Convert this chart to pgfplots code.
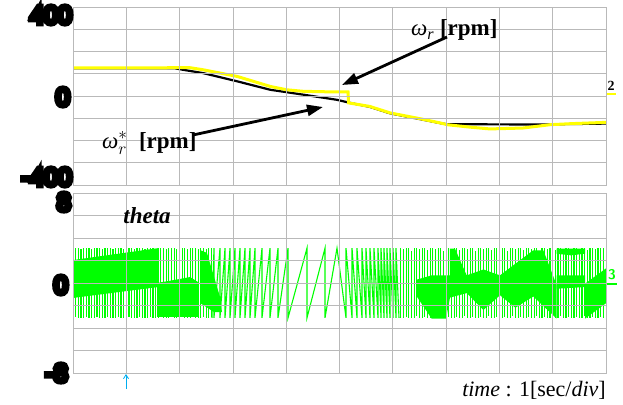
\documentclass[border=0pt]{standalone}
\usepackage{pgfplots}
\pgfplotsset{compat=1.18}
\usepackage{pgfplotstable}
\usepackage{fontspec}
\setmainfont{Liberation Serif}
\newfontfamily\blobfont[FakeBold=22]{Liberation Sans}
\usetikzlibrary{arrows.meta}
\definecolor{scgreen}{RGB}{0,255,0}
\definecolor{scyellow}{RGB}{255,255,0}
\definecolor{scgrid}{RGB}{185,185,185}

\pgfplotstableread{
t hi lo
0.00 3.1 -3.1
0.05 3.1 -3.0
0.10 3.1 -3.1
0.15 3.0 -3.1
0.20 3.1 -3.1
0.25 3.1 -3.0
0.30 3.1 -3.1
0.35 3.0 -3.1
0.40 3.1 -3.1
0.45 3.1 -3.0
0.50 3.1 -3.1
0.55 3.0 -3.1
0.60 3.1 -3.1
0.65 3.1 -3.0
0.70 3.1 -3.1
0.75 3.0 -3.1
0.80 3.1 -3.1
0.85 3.1 -3.0
0.90 3.1 -3.1
0.95 3.0 -3.1
1.00 3.1 -3.1
1.05 3.1 -3.0
1.10 3.1 -3.1
1.15 3.0 -3.1
1.20 3.1 -3.1
1.25 3.1 -3.0
1.30 3.1 -3.1
1.35 3.0 -3.1
1.40 3.1 -3.1
1.45 3.1 -3.0
1.50 3.1 -3.1
1.55 3.0 -3.1
1.60 3.1 -3.1
1.65 3.1 -3.0
1.70 3.1 -3.1
1.75 3.0 -3.1
1.80 3.1 -3.1
1.85 3.1 -3.0
1.90 3.1 -3.1
1.95 3.0 -3.1
2.00 3.1 -3.1
2.05 3.1 -3.0
2.10 3.1 -3.1
2.15 3.0 -3.1
2.20 3.1 -3.1
2.25 3.1 -3.0
2.30 3.1 -3.1
2.35 3.0 -3.1
2.40 3.1 -3.1
2.45 3.1 -3.0
2.50 3.0 -3.1
2.55 3.1 -3.1
2.60 3.1 -3.0
}\earlyT

\pgfplotstableread{
t hi lo
6.15 3.1 -3.1
6.20 3.0 -3.1
6.25 3.1 -3.0
6.30 3.1 -3.1
6.35 2.8 -3.1
6.40 3.1 -3.1
6.45 3.1 -2.9
6.50 3.0 -3.1
6.55 3.1 -3.1
6.60 3.1 -3.0
6.65 2.9 -3.1
6.70 3.1 -3.1
6.75 3.1 -3.0
6.80 3.0 -3.1
6.85 3.1 -3.1
6.90 3.1 -2.9
6.95 2.8 -3.1
7.00 3.1 -3.1
7.05 3.1 -3.0
7.10 3.0 -3.1
7.15 3.1 -3.1
7.20 3.1 -3.0
7.25 2.9 -3.1
7.30 3.1 -3.1
7.35 3.1 -2.9
7.40 3.0 -3.1
7.45 3.1 -3.1
7.50 3.1 -3.0
7.55 2.8 -3.1
7.60 3.1 -3.1
7.65 3.1 -3.0
7.70 3.0 -3.1
7.75 3.1 -3.1
7.80 3.1 -2.9
7.85 2.9 -3.1
7.90 3.1 -3.1
7.95 3.1 -3.0
8.00 3.0 -3.1
8.05 3.1 -3.1
8.10 3.1 -3.0
8.15 2.8 -3.1
8.20 3.1 -3.1
8.25 3.1 -2.9
8.30 3.0 -3.1
8.35 3.1 -3.1
8.40 3.1 -3.0
8.45 2.9 -3.1
8.50 3.1 -3.1
8.55 3.1 -3.0
8.60 3.0 -3.1
8.65 3.1 -3.1
8.70 3.1 -2.9
8.75 2.8 -3.1
8.80 3.1 -3.1
8.85 3.1 -3.0
8.90 3.0 -3.1
8.95 3.1 -3.1
9.00 3.1 -3.0
9.05 2.9 -3.1
9.10 3.1 -3.1
9.15 3.1 -2.9
9.20 3.0 -3.1
9.25 3.1 -3.1
9.30 3.1 -3.0
9.35 2.8 -3.1
9.40 3.1 -3.1
9.45 3.1 -3.0
9.50 3.0 -3.1
9.55 3.1 -3.1
9.60 3.1 -2.9
9.65 2.9 -3.1
9.70 3.1 -3.1
9.75 3.1 -3.0
9.80 3.0 -3.1
9.85 3.1 -3.1
9.90 3.1 -3.0
9.95 3.1 -3.1
}\lateT

\pgfplotsset{
  scopeax/.style={
    scale only axis, width=533pt, anchor=south west,
    xmin=0, xmax=10, xtick={0,1,...,10},
    xticklabels={}, yticklabels={},
    major tick length=0pt,
    grid=major, grid style={scgrid, line width=0.8pt},
    axis line style={scgrid, line width=0.8pt},
    axis on top,
  }
}

\begin{document}
\begin{tikzpicture}[x=1pt,y=1pt]
\path[use as bounding box] (0,0) rectangle (623,404);

% ---------- top panel: speed ----------
\begin{axis}[scopeax, at={(73pt,219pt)}, height=178pt,
  ymin=-400, ymax=400, ytick={-400,-300,...,400}]
\addplot[black, line width=2.2pt] coordinates {
(0,125)(1.9,125)(2.06,118)(2.44,103)(3.08,66)(3.70,28)(4.32,6)(4.95,-17)(5.20,-31)
(5.57,-49)(5.95,-78)(6.51,-104)(6.89,-122)(7.02,-127)(8.82,-128)(9.38,-126)(10,-124)};
\addplot[scyellow, line width=3pt] coordinates {
(0,126)(1.82,127)(2.20,127)(2.44,118)(3.08,88)(3.70,43)(4.01,28)(4.32,21)(4.95,18)
(5.16,18)(5.17,-31)(5.57,-47)(5.95,-76)(6.51,-102)(6.89,-121)(7.02,-129)(7.45,-140)
(7.82,-148)(8.44,-144)(8.95,-129)(9.38,-124)(9.94,-119)(10,-119)};
\end{axis}

% ---------- bottom panel: theta ----------
\begin{axis}[scopeax, at={(73pt,31pt)}, height=180pt,
  ymin=-8, ymax=8, ytick={-8,-6,...,8}]
\addplot[scgreen, ycomb, line width=1.1pt] table[x=t,y=hi]{\earlyT};
\addplot[scgreen, ycomb, line width=1.1pt] table[x=t,y=lo]{\earlyT};
\addplot[scgreen, ycomb, line width=1.1pt] table[x=t,y=hi]{\lateT};
\addplot[scgreen, ycomb, line width=1.1pt] table[x=t,y=lo]{\lateT};
\addplot[scgreen, line width=1.1pt] coordinates {
(2.608,-3.1)(2.645,3.1)(2.645,-3.1)(2.758,3.1)(2.758,-3.1)(2.852,3.1)(2.852,-3.1)
(2.946,3.1)(2.946,-3.1)(3.039,3.1)(3.039,-3.1)(3.133,3.1)(3.133,-3.1)(3.227,3.1)
(3.227,-3.1)(3.321,3.1)(3.321,-3.1)(3.415,3.1)(3.415,-3.1)(3.546,3.1)(3.546,-3.1)
(3.696,3.1)(3.696,-3.1)(3.846,3.1)(3.846,-3.1)(4.034,3.1)(4.034,-3.1)(4.390,3.1)
(4.390,-3.1)(4.728,3.1)(4.728,-3.1)(4.953,3.1)(5.122,-3.1)(5.122,3.1)(5.235,-3.1)
(5.235,3.1)(5.328,-3.1)(5.328,3.1)(5.422,-3.1)(5.422,3.1)(5.497,-3.1)(5.497,3.1)
(5.572,-3.1)(5.572,3.1)(5.647,-3.1)(5.647,3.1)(5.722,-3.1)(5.722,3.1)(5.779,-3.1)
(5.779,3.1)(5.835,-3.1)(5.835,3.1)(5.891,-3.1)(5.891,3.1)(5.947,-3.1)(5.947,3.1)
(6.004,-3.1)(6.004,3.1)(6.060,-3.1)(6.060,3.1)(6.116,-3.1)};
% solid (aliased) regions
\addplot[fill=scgreen, draw=none] coordinates {(0,2.04)(1.6,3.1)(1.6,-0.36)(0,-1.33)} -- cycle;
\addplot[fill=scgreen, draw=none] coordinates {(1.576,0)(2.008,0.36)(2.195,0.53)(2.345,0.09)(2.345,-3.02)(1.576,-3.02)} -- cycle;
\addplot[fill=scgreen, draw=none] coordinates {(2.383,2.93)(2.514,2.67)(2.758,-1.24)(2.795,-2.58)(2.645,-2.58)(2.383,-1.78)} -- cycle;
\addplot[fill=scgreen, draw=none] coordinates {(6.45,0.3)(6.729,0.68)(7.073,0.68)(7.073,3.05)(7.167,3.05)(7.386,0.68)(7.7,1.2)(8.011,0.68)(8.636,2.91)(8.824,2.91)(9.075,-0.20)(9.075,-3.17)(8.636,-1.2)(8.3,-2.2)(8.011,-1.09)(7.7,-2.4)(7.386,-0.9)(7.073,-1.3)(7.0,-3.17)(6.729,-3.17)(6.45,-1.2)} -- cycle;
\addplot[fill=scgreen, draw=none] coordinates {(9.075,3.05)(9.606,3.05)(9.606,2.60)(9.34,2.46)(9.075,2.60)} -- cycle;
\addplot[fill=scgreen, draw=none] coordinates {(9.075,0.68)(9.606,0.68)(9.606,-0.36)(9.075,-0.51)} -- cycle;
\addplot[fill=scgreen, draw=none] coordinates {(9.606,-0.06)(10,1.3)(10,-1.8)(9.606,-3.17)} -- cycle;
\end{axis}

% ---------- blob tick labels ----------
\begin{scope}[every node/.style={anchor=east, inner sep=0pt, font=\blobfont\fontsize{25}{25}\selectfont}]
\node at (72,389) {400};
\node at (70,307) {0};
\node at (72,227) {-400};
\node at (71,202) {8};
\node at (68,119) {0};
\node at (68,31) {-8};
\end{scope}

% ---------- annotations ----------
\draw[black, line width=2.8pt, -{Triangle[length=16pt,width=11pt]}] (447,367) -- (342,319);
\draw[black, line width=2.8pt, -{Triangle[length=16pt,width=11pt]}] (193,269) -- (323,297);
\node[anchor=west, inner sep=0pt, font=\fontsize{23}{23}\selectfont] at (411,374) {\textit{ω}\textsubscript{\textit{r}}\ \textbf{[rpm]}};
\node[anchor=west, inner sep=0pt, font=\fontsize{23}{23}\selectfont] at (102,261) {\textit{ω}$^{*}_{r}$\ \ \textbf{[rpm]}};
\node[anchor=center, inner sep=0pt, font=\fontsize{23}{23}\selectfont\bfseries\itshape] at (147,188) {theta};
\node[anchor=base east, inner sep=0pt, font=\fontsize{22}{22}\selectfont] at (606,8) {\textit{time} : 1[sec/\textit{div}]};

% channel markers
\node[anchor=center, inner sep=0pt, font=\fontsize{14}{14}\selectfont\bfseries] at (611,318) {2};
\draw[scyellow, line width=1.5pt] (607,310) -- (616,310);
\node[anchor=center, inner sep=0pt, text=scgreen, font=\fontsize{14}{14}\selectfont\bfseries\sffamily] at (612,129) {3};
\draw[scgreen, line width=1.5pt] (607,120) -- (617,120);

% cursor arrow
\draw[cyan, line width=0.8pt, -{Straight Barb[length=4pt,width=5pt]}] (126,15) -- (126,30);
\end{tikzpicture}
\end{document}
